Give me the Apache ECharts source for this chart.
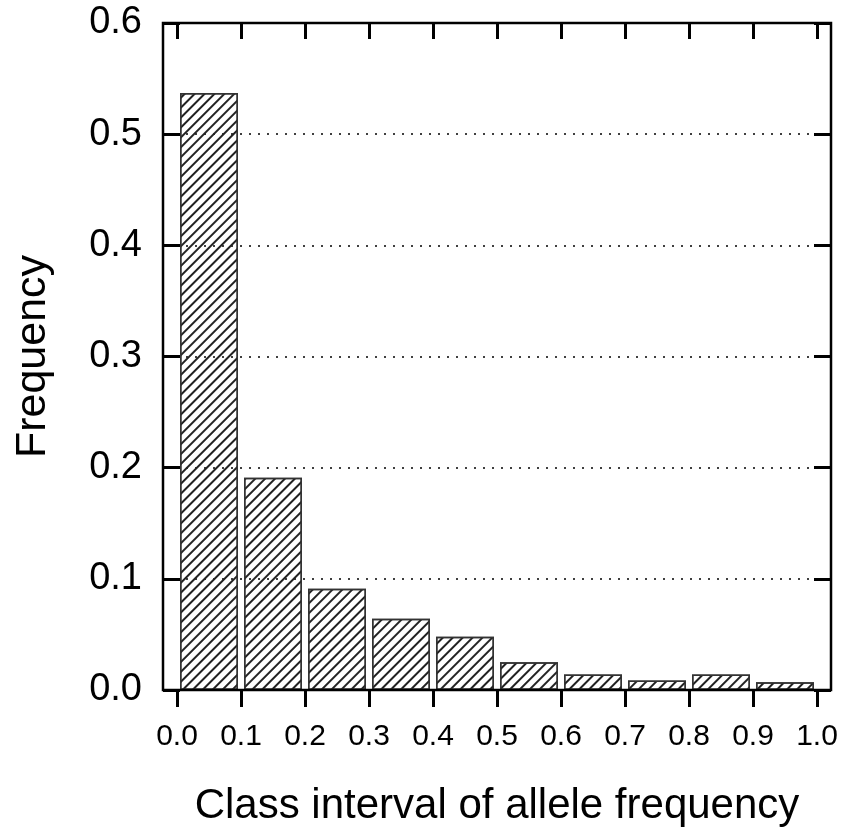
<!DOCTYPE html>
<html>
<head>
<meta charset="utf-8">
<script src="https://cdn.jsdelivr.net/npm/echarts@6/dist/echarts.min.js"></script>
<style>
  html, body { margin: 0; padding: 0; background: #fff; }
  #chart { width: 846px; height: 839px; }
</style>
</head>
<body>
<div id="chart"></div>
<script>
// class intervals (lower bound) and observed frequency
const classStart = [0.0, 0.1, 0.2, 0.3, 0.4, 0.5, 0.6, 0.7, 0.8, 0.9]
const frequency = [0.537, 0.191, 0.091, 0.064, 0.048, 0.025, 0.014, 0.0085, 0.014, 0.007]
const classWidth = 0.1

const font = "'Liberation Sans', Arial, Helvetica, sans-serif"

// layout
const W = 846, H = 839
const gridLeft = 177, gridRight = 29, gridTop = 23, gridBottom = 149
const pad = 14 // frame sits a bit outside the data range, like R's default

const chart = echarts.init(document.getElementById('chart'))

const barData = classStart.map((s, i) => [s + classWidth / 2, frequency[i]])

const noLine = { show: false, onZero: false }

const yAxisBase = {
    type: 'value',
    min: 0,
    max: 0.6,
    interval: 0.1,
    offset: pad,
    axisLine: noLine,
    axisTick: { show: true, inside: true, length: 17, lineStyle: { color: '#000', width: 3 } },
    splitLine: { show: false }
}

const option = {
    animation: false,
    backgroundColor: '#fff',
    grid: { left: gridLeft, right: gridRight, top: gridTop, bottom: gridBottom },
    xAxis: [{
        type: 'value',
        min: 0,
        max: 1,
        interval: 0.1,
        name: 'Class interval of allele frequency',
        nameLocation: 'middle',
        nameGap: 95,
        nameTextStyle: { fontFamily: font, fontSize: 42, color: '#000' },
        axisLine: noLine,
        axisTick: { show: true, length: 17, lineStyle: { color: '#000', width: 3 } },
        axisLabel: {
            margin: 32,
            fontFamily: font,
            fontSize: 30,
            color: '#000',
            formatter: v => v.toFixed(1)
        },
        splitLine: { show: false }
    }, {
        type: 'value',
        position: 'top',
        min: 0,
        max: 1,
        interval: 0.1,
        axisLine: noLine,
        axisTick: { show: true, inside: true, length: 16, lineStyle: { color: '#000', width: 3 } },
        axisLabel: { show: false },
        splitLine: { show: false }
    }],
    yAxis: [Object.assign({}, yAxisBase, {
        position: 'left',
        name: 'Frequency',
        nameLocation: 'middle',
        nameGap: 108,
        nameTextStyle: { fontFamily: font, fontSize: 43, color: '#000' },
        axisLabel: {
            margin: 21,
            fontFamily: font,
            fontSize: 38,
            color: '#000',
            formatter: v => v.toFixed(1)
        },
        splitLine: {
            show: true,
            lineStyle: { color: '#000', width: 1.5, type: [2, 7] }
        }
    }), Object.assign({}, yAxisBase, {
        position: 'right',
        axisLabel: { show: false }
    })],
    series: [{
        type: 'bar',
        xAxisIndex: 0,
        yAxisIndex: 0,
        barWidth: 58,
        data: barData,
        itemStyle: {
            color: 'rgba(255,255,255,0)',
            borderColor: '#333',
            borderWidth: 1.5,
            decal: {
                symbol: 'rect',
                symbolSize: 1,
                color: '#222',
                dashArrayX: [1, 0],
                dashArrayY: [1.2, 4.8],
                rotation: -Math.PI / 4
            }
        }
    }],
    graphic: [{
        type: 'rect',
        z: 100,
        shape: {
            x: gridLeft - pad,
            y: gridTop,
            width: W - gridLeft - gridRight + 2 * pad,
            height: H - gridTop - gridBottom
        },
        style: { fill: 'none', stroke: '#000', lineWidth: 2.5 }
    }]
}

chart.setOption(option)
</script>
</body>
</html>
